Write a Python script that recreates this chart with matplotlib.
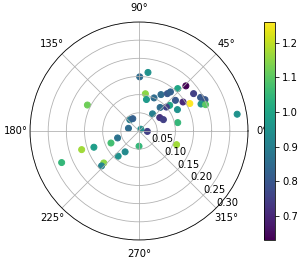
import numpy as np
import matplotlib
matplotlib.use("Agg")
from matplotlib import pyplot as plt

# angle in degrees, radius, colour value
theta_deg = [89.3, 81.3, 43.9, 80.3, 76.7, 65.6, 58.9, 52.8, 51.2, 47.6,
             34.4, 28.6, 25.4, 28.4, 33.4, 23.5, 21.6, 40.1, 39.9, 41.2,
             48.1, 29.1, 51.8, 32.9, 25.0, 12.2, 9.7, 153.3, 129.2, 116.9,
             165.7, 45.0, -3.0, 198.0, 203.2, 199.8, 198.0, 270.0, 236.3, 230.3,
             222.2, 223.0, 202.2, -20.0]
radius = [0.149, 0.163, 0.179, 0.104, 0.089, 0.100, 0.117, 0.129, 0.138, 0.158,
          0.182, 0.193, 0.201, 0.159, 0.145, 0.186, 0.197, 0.131, 0.110, 0.100,
          0.087, 0.121, 0.060, 0.068, 0.074, 0.109, 0.274, 0.159, 0.040, 0.038,
          0.030, 0.007, 0.023, 0.062, 0.084, 0.132, 0.166, 0.042, 0.069, 0.090,
          0.131, 0.141, 0.230, 0.110]
values = [0.85, 0.95, 0.63, 1.15, 0.97, 0.85, 0.85, 0.80, 0.82, 1.00,
          0.75, 0.80, 0.80, 1.26, 0.70, 0.95, 1.10, 0.80, 1.00, 0.75,
          0.85, 0.95, 0.90, 0.72, 0.75, 1.05, 0.95, 1.12, 0.90, 0.82,
          0.85, 0.95, 0.75, 0.87, 1.07, 0.98, 1.17, 1.05, 0.93, 0.95,
          1.15, 0.92, 1.05, 1.17]

fig = plt.figure(figsize=(305 / 72, 263 / 72), dpi=72)
ax = fig.add_axes([0.0984, 0.0875, 0.7148, 0.8289], projection='polar')
cax = fig.add_axes([0.8656, 0.0875, 0.037, 0.8289])

sc = ax.scatter(np.deg2rad(theta_deg), radius, c=values, cmap='viridis')
ax.set_rlim(0, 0.30)
ax.set_rticks([0.05, 0.10, 0.15, 0.20, 0.25, 0.30])
ax.set_rlabel_position(315)
fig.colorbar(sc, cax=cax)

fig.savefig('out.png', dpi=72)
